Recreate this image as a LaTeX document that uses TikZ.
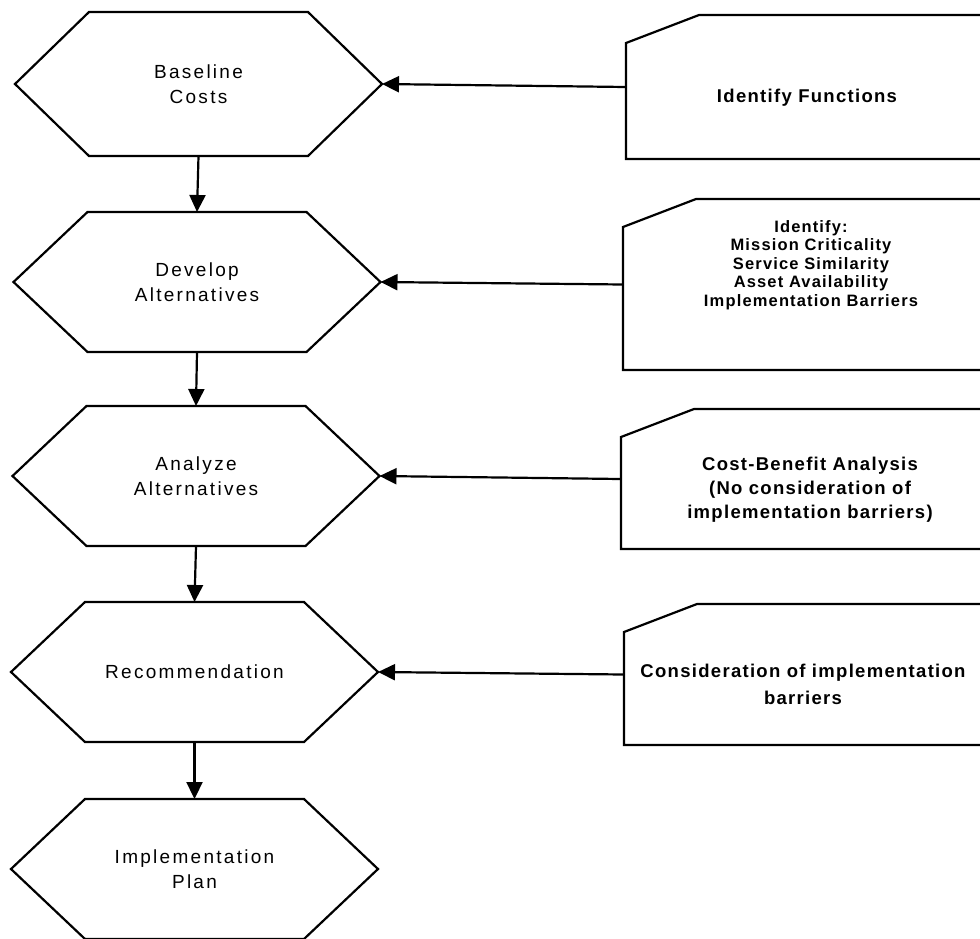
\documentclass[tikz,border=0pt]{standalone}
\usepackage{fontspec}
\setmainfont{Liberation Sans}
\newfontfamily\hexfont[LetterSpace=12]{Liberation Sans}
\newfontfamily\boxfont[LetterSpace=7]{Liberation Sans}
\usetikzlibrary{arrows.meta,calc}
\tikzset{
  hexframe/.style={minimum width=367pt, minimum height=140pt, inner sep=0pt, outer sep=0pt,
    align=center, font=\hexfont\fontsize{19}{25.5}\selectfont},
  boxframe/.style={minimum width=372pt, inner sep=0pt, outer sep=0pt},
  outline/.style={line width=2.2pt, line join=miter},
  conn/.style={line width=2.2pt, -{Triangle[length=17pt,width=16pt]}},
  boxtext/.style={align=center, inner sep=0pt},
}
\newcommand\hexpath[1]{\draw[outline] (#1.west) -- ($(#1.north west)+(74,0)$) -- ($(#1.north east)+(-74,0)$) -- (#1.east) -- ($(#1.south east)+(-74,0)$) -- ($(#1.south west)+(74,0)$) -- cycle;}
\newcommand\boxpath[1]{\draw[outline] ($(#1.north west)+(0,28)$) -- ($(#1.north west)+(73,0)$) -- (#1.north east) -- (#1.south east) -- (#1.south west) -- cycle;}
\begin{document}
\begin{tikzpicture}[x=1pt,y=-1pt]
\useasboundingbox (0,0) rectangle (980,938);
\clip (0,0) rectangle (980,938);
\fill[white] (0,0) rectangle (980,938);
% hexagons
\node[hexframe, minimum height=144pt] (h1) at (198.5,84) {Baseline\\Costs};
\node[hexframe] (h2) at (197,282) {Develop\\Alternatives};
\node[hexframe] (h3) at (196,476) {Analyze\\Alternatives};
\node[hexframe] (h4) at (194.5,672) {Recommendation};
\node[hexframe] (h5) at (194.5,869) {Implementation\\Plan};
\foreach \h in {h1,h2,h3,h4,h5} {\hexpath{\h}}
% boxes
\node[boxframe, minimum height=144pt, anchor=west] (b1) at (626,87) {};
\node[boxframe, minimum height=171pt, anchor=west] (b2) at (623,284.5) {};
\node[boxframe, minimum height=140pt, anchor=west] (b3) at (621,479) {};
\node[boxframe, minimum height=141pt, anchor=west] (b4) at (624,674.5) {};
\foreach \b in {b1,b2,b3,b4} {\boxpath{\b}}
\node[boxtext, font=\boxfont\bfseries\fontsize{18.5}{24}\selectfont] (t1) at (807,98) {Identify Functions};
\node[boxtext, font=\boxfont\bfseries\fontsize{16.5}{18.5}\selectfont] (t2) at (811,265) {Identify:\\Mission Criticality\\Service Similarity\\Asset Availability\\Implementation Barriers};
\node[boxtext, font=\boxfont\bfseries\fontsize{18.5}{24}\selectfont] (t3) at (810,490) {Cost-Benefit Analysis\\(No consideration of\\implementation barriers)};
\node[boxtext, font=\boxfont\bfseries\fontsize{18.5}{27}\selectfont] (t4) at (803,684) {Consideration of implementation\\barriers};
% connectors
\draw[conn] (h1.south) -- (h2.north);
\draw[conn] (h2.south) -- (h3.north);
\draw[conn] (h3.south) -- (h4.north);
\draw[conn] (h4.south) -- (h5.north);
\draw[conn] (b1.west) -- (h1.east);
\draw[conn] (b2.west) -- (h2.east);
\draw[conn] (b3.west) -- (h3.east);
\draw[conn] (b4.west) -- (h4.east);
\end{tikzpicture}
\end{document}
